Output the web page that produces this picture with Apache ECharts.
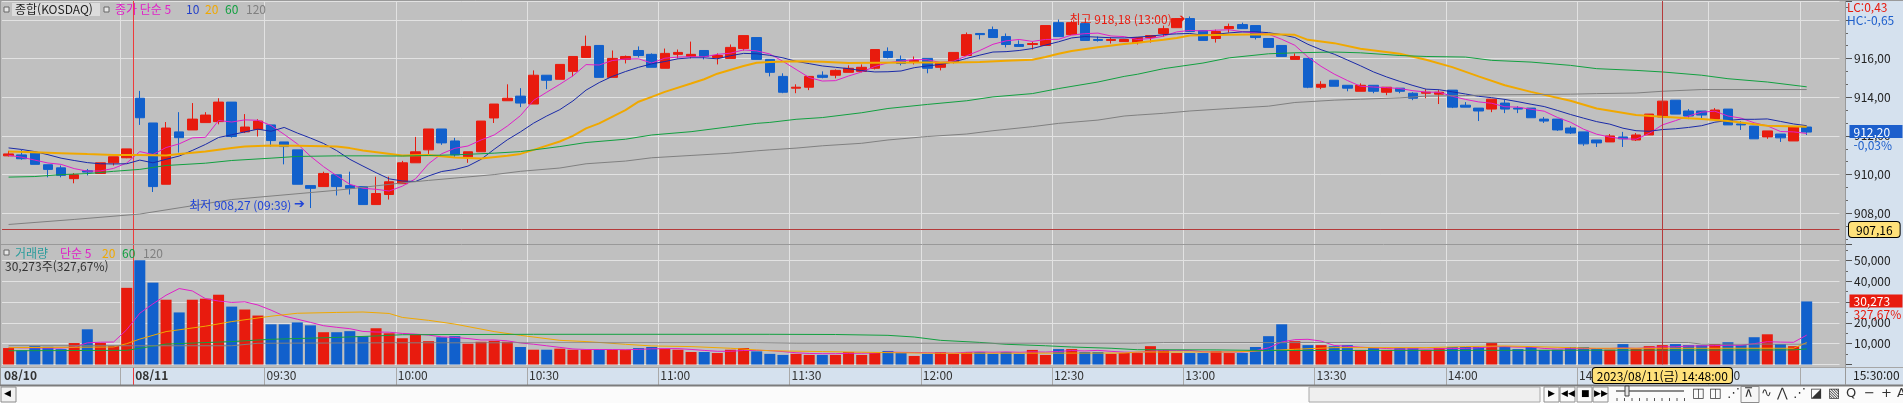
<!DOCTYPE html>
<html lang="ko">
<head>
<meta charset="UTF-8">
<title>종합(KOSDAQ) 3분봉</title>
<script src="https://cdn.jsdelivr.net/npm/echarts@6.0.0/dist/echarts.min.js"></script>
<style>
  html, body { margin: 0; padding: 0; background: #ffffff; overflow: hidden; }
  #main { width: 1903px; height: 403px; }
</style>
</head>
<body>
<div id="main"></div>
<script>
// ---- data (3 minute candles) ----
var day1Times = ['14:54', '14:57', '15:00', '15:03', '15:06', '15:09', '15:12', '15:15', '15:18', '15:30'];
var day2Times = [
  '09:00','09:03','09:06','09:09','09:12','09:15','09:18','09:21','09:24','09:27',
  '09:30','09:33','09:36','09:39','09:42','09:45','09:48','09:51','09:54','09:57',
  '10:00','10:03','10:06','10:09','10:12','10:15','10:18','10:21','10:24','10:27',
  '10:30','10:33','10:36','10:39','10:42','10:45','10:48','10:51','10:54','10:57',
  '11:00','11:03','11:06','11:09','11:12','11:15','11:18','11:21','11:24','11:27',
  '11:30','11:33','11:36','11:39','11:42','11:45','11:48','11:51','11:54','11:57',
  '12:00','12:03','12:06','12:09','12:12','12:15','12:18','12:21','12:24','12:27',
  '12:30','12:33','12:36','12:39','12:42','12:45','12:48','12:51','12:54','12:57',
  '13:00','13:03','13:06','13:09','13:12','13:15','13:18','13:21','13:24','13:27',
  '13:30','13:33','13:36','13:39','13:42','13:45','13:48','13:51','13:54','13:57',
  '14:00','14:03','14:06','14:09','14:12','14:15','14:18','14:21','14:24','14:27',
  '14:30','14:33','14:36','14:39','14:42','14:45','14:48','14:51','14:54','14:57',
  '15:00','15:03','15:06','15:09','15:12','15:15','15:18','15:30'
];

var open = [
  910.97, 911.02, 911.11, 910.51, 910.35, 909.79, 910.20, 910.06, 910.61, 910.87,
  913.95, 912.67, 909.50, 912.21, 912.31, 912.69, 912.74, 913.75, 912.21, 912.34,
  912.57, 911.69, 911.28, 909.43, 909.38, 909.99, 909.43, 909.38, 908.45, 908.97,
  909.53, 910.61, 911.28, 912.36, 911.74, 910.92, 911.18, 912.93, 913.82, 914.06,
  913.65, 915.14, 914.93, 915.34, 916.06, 916.68, 915.03, 915.96, 916.42, 916.22,
  915.50, 916.22, 916.11, 916.42, 916.06, 916.01, 916.52, 917.09, 915.96, 915.08,
  914.47, 914.52, 915.14, 915.14, 915.29, 915.34, 915.50, 916.37, 915.96, 915.80,
  916.01, 915.55, 915.80, 916.16, 917.30, 917.50, 917.14, 916.73, 916.73, 916.68,
  917.86, 917.24, 917.81, 916.99, 916.94, 916.88, 916.83, 917.09, 917.30, 917.60,
  918.07, 917.45, 917.04, 917.55, 917.76, 917.71, 917.04, 916.68, 915.96, 916.01,
  914.52, 914.88, 914.62, 914.31, 914.62, 914.26, 914.47, 914.21, 914.21, 914.16,
  914.37, 913.59, 913.44, 913.39, 913.70, 913.44, 913.44, 912.87, 912.87, 912.41,
  912.21, 911.79, 911.69, 911.95, 911.79, 912.05, 912.98, 913.85, 913.29, 913.29,
  912.87, 913.39, 912.62, 912.51, 911.95, 912.10, 911.74, 912.46
];
var high = [
  911.23, 911.28, 911.14, 910.51, 910.47, 910.08, 910.29, 910.61, 910.92, 911.33,
  914.33, 912.67, 912.72, 913.23, 913.70, 913.23, 913.95, 913.75, 913.13, 912.87,
  912.57, 911.69, 911.28, 909.43, 910.15, 909.99, 910.15, 909.38, 909.89, 909.89,
  910.71, 911.95, 912.36, 912.36, 911.90, 911.18, 912.77, 913.65, 914.67, 914.47,
  915.39, 915.14, 915.70, 916.11, 917.19, 916.68, 916.42, 916.16, 916.63, 916.27,
  916.52, 916.47, 916.88, 916.42, 916.27, 916.73, 917.19, 917.09, 915.96, 915.24,
  914.67, 915.08, 915.34, 915.44, 915.65, 915.70, 916.47, 916.58, 916.16, 916.11,
  916.01, 915.80, 916.32, 917.35, 917.30, 917.66, 917.30, 916.94, 916.88, 917.71,
  918.02, 917.96, 917.86, 917.14, 917.09, 916.99, 917.09, 917.19, 917.71, 918.07,
  918.18, 917.45, 917.50, 917.81, 917.86, 917.71, 917.04, 916.68, 916.27, 916.01,
  914.83, 914.88, 914.62, 914.72, 914.62, 914.52, 914.47, 914.26, 914.42, 914.37,
  914.37, 913.75, 913.44, 913.90, 913.90, 913.54, 913.44, 912.98, 912.87, 912.51,
  912.21, 911.79, 912.10, 912.21, 912.15, 913.13, 913.95, 913.85, 913.39, 913.29,
  913.44, 913.39, 912.77, 912.51, 912.26, 912.10, 912.46, 912.46
];
var low = [
  910.94, 910.77, 910.53, 909.86, 909.86, 909.55, 909.96, 910.06, 910.47, 910.85,
  912.57, 909.10, 909.50, 911.14, 912.31, 912.69, 912.60, 911.91, 912.15, 911.97,
  911.45, 910.53, 909.50, 908.27, 909.38, 908.92, 908.97, 908.45, 908.45, 908.71,
  909.53, 910.61, 911.07, 911.54, 910.92, 910.61, 911.18, 912.67, 913.82, 913.49,
  913.65, 914.42, 914.93, 915.08, 916.06, 915.03, 915.03, 915.75, 916.06, 915.55,
  915.50, 916.01, 916.01, 915.96, 915.70, 916.01, 916.42, 915.96, 915.08, 914.21,
  914.21, 914.37, 914.98, 914.98, 915.29, 915.29, 915.44, 916.01, 915.65, 915.70,
  915.24, 915.39, 915.75, 916.16, 916.99, 917.09, 916.58, 916.63, 916.47, 916.68,
  917.14, 917.24, 916.94, 916.88, 916.78, 916.88, 916.73, 916.83, 917.14, 917.60,
  917.40, 916.94, 916.83, 917.35, 917.55, 916.99, 916.58, 916.11, 915.96, 914.47,
  914.42, 914.57, 914.31, 914.31, 914.21, 914.11, 914.21, 913.85, 913.95, 913.65,
  913.44, 913.49, 912.77, 913.23, 913.18, 913.18, 912.94, 912.67, 912.26, 912.10,
  911.49, 911.43, 911.69, 911.43, 911.74, 912.05, 912.98, 913.13, 912.87, 912.87,
  912.82, 912.57, 912.31, 911.85, 911.85, 911.69, 911.74, 912.05
];
var close = [
  911.07, 910.82, 910.53, 910.27, 909.96, 909.99, 910.13, 910.61, 910.92, 911.33,
  912.94, 909.38, 912.41, 911.91, 912.87, 913.08, 913.75, 911.97, 912.46, 912.77,
  911.76, 911.45, 909.50, 909.29, 910.06, 909.38, 909.29, 908.45, 909.02, 909.63,
  910.61, 911.18, 912.36, 911.64, 911.02, 911.18, 912.77, 913.65, 913.95, 913.70,
  915.14, 914.88, 915.70, 916.11, 916.63, 915.03, 916.01, 916.11, 916.16, 915.55,
  916.27, 916.32, 916.22, 916.11, 916.16, 916.58, 917.19, 915.96, 915.29, 914.26,
  914.52, 915.08, 915.03, 915.39, 915.50, 915.55, 916.47, 916.06, 915.75, 915.91,
  915.50, 915.80, 916.32, 917.24, 917.24, 917.09, 916.73, 916.63, 916.78, 917.71,
  917.14, 917.86, 916.94, 916.94, 916.99, 916.99, 917.09, 917.19, 917.55, 918.07,
  917.40, 916.94, 917.40, 917.66, 917.55, 917.09, 916.58, 916.11, 916.11, 914.52,
  914.67, 914.57, 914.47, 914.62, 914.31, 914.52, 914.31, 913.95, 914.26, 914.26,
  913.49, 913.49, 913.29, 913.90, 913.39, 913.39, 912.94, 912.77, 912.31, 912.15,
  911.59, 911.64, 912.00, 911.85, 912.05, 913.13, 913.80, 913.13, 913.03, 913.08,
  913.34, 912.57, 912.57, 911.85, 912.26, 911.90, 912.46, 912.20
];

// price moving averages (종가 단순 5 / 10 per candle, 20 / 60 / 120 read at points)
var ma5 = [
  911.00, 910.90, 910.75, 910.60, 910.53, 910.31, 910.18, 910.19, 910.32, 910.60,
  911.19, 911.04, 911.40, 911.59, 911.90, 911.93, 912.80, 912.72, 912.83, 912.81,
  912.54, 912.08, 911.59, 910.95, 910.41, 909.94, 909.50, 909.29, 909.24, 909.15,
  909.40, 909.78, 910.56, 911.08, 911.36, 911.48, 911.79, 912.05, 912.51, 913.05,
  913.84, 914.26, 914.67, 915.11, 915.69, 915.67, 915.90, 915.98, 915.99, 915.77,
  916.02, 916.08, 916.10, 916.09, 916.22, 916.28, 916.45, 916.40, 916.24, 915.86,
  915.44, 915.02, 914.84, 914.86, 915.10, 915.31, 915.59, 915.79, 915.87, 915.95,
  915.94, 915.80, 915.86, 916.15, 916.42, 916.74, 916.92, 916.99, 916.89, 916.99,
  917.00, 917.22, 917.29, 917.32, 917.17, 917.14, 916.99, 917.04, 917.16, 917.38,
  917.46, 917.43, 917.47, 917.49, 917.39, 917.33, 917.26, 917.00, 916.69, 916.08,
  915.60, 915.20, 914.87, 914.57, 914.53, 914.50, 914.45, 914.34, 914.27, 914.26,
  914.05, 913.89, 913.76, 913.69, 913.51, 913.49, 913.38, 913.28, 912.96, 912.71,
  912.35, 912.09, 911.94, 911.85, 911.83, 912.13, 912.57, 912.79, 913.03, 913.23,
  913.28, 913.03, 912.92, 912.68, 912.52, 912.23, 912.21, 912.13
];
var ma10 = [
  911.38, 911.30, 911.19, 911.03, 910.85, 910.73, 910.62, 910.56, 910.55, 910.56,
  910.75, 910.61, 910.79, 910.96, 911.25, 911.56, 911.92, 912.06, 912.21, 912.35,
  912.24, 912.44, 912.15, 911.89, 911.61, 911.24, 910.79, 910.44, 910.10, 909.78,
  909.67, 909.64, 909.93, 910.16, 910.26, 910.44, 910.79, 911.31, 911.80, 912.21,
  912.66, 913.03, 913.36, 913.81, 914.37, 914.76, 915.08, 915.33, 915.55, 915.73,
  915.85, 915.99, 916.04, 916.04, 915.99, 916.15, 916.27, 916.25, 916.17, 916.04,
  915.86, 915.74, 915.62, 915.55, 915.48, 915.38, 915.31, 915.32, 915.36, 915.53,
  915.62, 915.70, 915.83, 916.01, 916.18, 916.34, 916.36, 916.42, 916.52, 916.70,
  916.87, 917.07, 917.14, 917.11, 917.08, 917.07, 917.11, 917.16, 917.24, 917.28,
  917.30, 917.21, 917.26, 917.33, 917.38, 917.39, 917.34, 917.24, 917.09, 916.74,
  916.46, 916.23, 915.93, 915.63, 915.31, 915.05, 914.82, 914.61, 914.42, 914.39,
  914.28, 914.17, 914.05, 913.98, 913.89, 913.77, 913.64, 913.52, 913.32, 913.11,
  912.92, 912.74, 912.61, 912.40, 912.27, 912.24, 912.33, 912.37, 912.44, 912.53,
  912.71, 912.80, 912.86, 912.86, 912.88, 912.75, 912.62, 912.53
];
var ma20 = [
  [0, 911.19], [2, 911.16], [4, 911.11], [6, 911.06], [8, 911.02], [10, 911.02], [12, 910.99],
  [13, 911.07], [15, 911.19], [17, 911.37], [18, 911.45], [20, 911.50], [22, 911.49], [25, 911.45],
  [26, 911.37], [27, 911.25], [30, 910.99], [32, 911.02], [34, 910.89], [36, 910.83], [38, 910.97],
  [39, 911.07], [40, 911.28], [42, 911.71], [43, 912.00], [44, 912.39], [45, 912.65], [47, 913.34],
  [48, 913.77], [49, 914.02], [50, 914.28], [52, 914.71], [53, 914.93], [54, 915.22], [56, 915.62],
  [57, 915.79], [58, 915.82], [60, 915.86], [62, 915.84], [64, 915.77], [66, 915.79], [69, 915.80],
  [72, 915.80], [74, 915.82], [76, 915.89], [78, 915.94], [79, 916.08], [80, 916.25], [81, 916.39],
  [83, 916.59], [85, 916.76], [86, 916.82], [88, 916.97], [89, 917.07], [90, 917.19], [93, 917.24],
  [96, 917.26], [98, 917.23], [99, 916.97], [101, 916.80], [103, 916.51], [106, 916.25], [108, 915.94],
  [110, 915.56], [112, 915.08], [114, 914.62], [116, 914.28], [119, 913.82], [121, 913.42], [124, 913.08],
  [126, 912.99], [129, 912.87], [131, 912.77], [134, 912.53], [137, 912.48]
];
var ma60 = [
  [0, 909.87], [2, 909.90], [4, 910.00], [6, 910.05], [8, 910.17], [10, 910.27], [12, 910.47],
  [15, 910.59], [17, 910.73], [20, 910.85], [22, 910.94], [25, 910.97], [27, 910.97], [30, 910.96],
  [32, 910.99], [34, 911.02], [37, 911.11], [39, 911.19], [42, 911.45], [44, 911.66], [47, 911.83],
  [49, 912.05], [52, 912.22], [55, 912.48], [57, 912.65], [58, 912.70], [60, 912.86], [62, 912.95],
  [65, 913.20], [67, 913.42], [70, 913.63], [73, 913.82], [75, 914.02], [78, 914.19], [80, 914.45],
  [83, 914.79], [85, 915.08], [86, 915.19], [88, 915.48], [91, 915.77], [93, 916.04], [96, 916.25],
  [98, 916.30], [101, 916.34], [103, 916.30], [106, 916.16], [108, 916.11], [111, 916.08], [113, 915.91],
  [116, 915.82], [119, 915.65], [121, 915.48], [124, 915.39], [126, 915.31], [129, 915.14], [131, 914.96],
  [134, 914.79], [137, 914.54]
];
var ma120 = [
  [0, 907.42], [5, 907.68], [10, 907.96], [17, 908.71], [25, 909.19], [30, 909.57], [32, 909.70],
  [34, 909.82], [37, 910.00], [39, 910.17], [42, 910.34], [44, 910.56], [47, 910.70], [49, 910.87],
  [52, 910.99], [55, 911.11], [57, 911.23], [58, 911.28], [60, 911.37], [62, 911.49], [65, 911.62],
  [67, 911.79], [70, 911.97], [73, 912.10], [75, 912.27], [78, 912.48], [80, 912.65], [83, 912.82],
  [85, 913.03], [86, 913.08], [88, 913.17], [90, 913.29], [93, 913.42], [96, 913.54], [98, 913.73],
  [101, 913.85], [103, 913.90], [106, 913.97], [108, 914.06], [111, 914.09], [113, 914.13], [116, 914.14],
  [119, 914.16], [121, 914.19], [124, 914.22], [126, 914.31], [129, 914.40], [137, 914.40]
];

// 거래량 (shares)
var volume = [
  7900, 6800, 8850, 8500, 7400, 10300, 16900, 10400, 9000, 36800,
  50100, 39300, 31100, 25000, 31100, 31600, 33500, 27800, 26400, 23500,
  19300, 19300, 20200, 18800, 15500, 15500, 16000, 13600, 17400, 15000,
  12600, 14400, 11200, 13100, 13600, 10000, 10900, 11400, 10900, 8400,
  7100, 7100, 7600, 7100, 7100, 7100, 7100, 7100, 7900, 8400,
  7600, 7100, 6000, 6000, 5500, 7100, 7900, 6300, 5100, 4600,
  5100, 4600, 4600, 4600, 6000, 4600, 5500, 6500, 5500, 4100,
  5100, 6000, 5100, 6000, 6000, 5100, 6000, 5100, 7000, 4600,
  7400, 7400, 6000, 6000, 5100, 5500, 5500, 8800, 7000, 5500,
  5500, 5500, 6500, 5500, 5500, 8400, 13600, 19300, 11200, 9300,
  9300, 8800, 9300, 7000, 7900, 7000, 7900, 7900, 7000, 7900,
  8400, 8400, 8400, 10300, 8600, 7400, 8400, 7000, 7100, 8400,
  8400, 7400, 7100, 9800, 7400, 8800, 9300, 9800, 9300, 9300,
  9800, 10700, 9300, 13100, 14500, 9800, 8800, 30273
];
var vma5 = [
  8200, 8000, 8000, 7900, 7890, 8370, 10390, 10700, 10800, 16680,
  24640, 29120, 33260, 36460, 35320, 31620, 30460, 29800, 30080, 28560,
  26100, 23260, 21740, 20220, 18620, 17860, 17200, 15880, 15600, 15500,
  14920, 14600, 14120, 13260, 12980, 12460, 11760, 11800, 11360, 10320,
  9740, 8980, 8220, 7460, 7200, 7200, 7200, 7100, 7260, 7520,
  7620, 7620, 7240, 6760, 6340, 6340, 6720, 6780, 6700, 6200,
  5640, 5300, 5200, 5200, 5380, 5380, 5560, 5940, 5840, 5740,
  5660, 5560, 5480, 5860, 6040, 5860, 6040, 5860, 6060, 5960,
  6240, 6700, 6500, 6780, 6320, 5940, 5840, 6400, 6780, 6780,
  6780, 6120, 6020, 6020, 6020, 6600, 8020, 10780, 11920, 12100,
  11240, 9140, 8760, 8300, 8020, 7660, 7380, 7560, 7380, 7560,
  7660, 7760, 8040, 8520, 8560, 8360, 8360, 7700, 7400, 7600,
  7600, 7680, 7680, 7960, 7760, 8040, 8480, 8480, 8860, 8960,
  9060, 9240, 9240, 10000, 10940, 10760, 10660, 14100
];
var vma20 = [
  [0, 8100], [8, 8400], [9, 10000], [10, 12200], [12, 15800], [15, 18400], [17, 20600], [20, 23200],
  [22, 24600], [25, 25000], [27, 25200], [29, 24500], [30, 22600], [32, 21200], [34, 19400], [37, 15800],
  [39, 14000], [42, 11600], [44, 11000], [47, 9700], [49, 8900], [52, 8600], [55, 7800], [57, 7000],
  [58, 6600], [62, 6200], [67, 5700], [71, 5400], [85, 5500], [86, 6000], [93, 6000], [96, 6700],
  [98, 7300], [101, 8100], [108, 8100], [111, 8600], [114, 8900], [116, 8600], [119, 8100], [121, 7800],
  [136, 7800], [137, 10500]
];
var vma60 = [
  [0, 6600], [9, 6800], [10, 7800], [12, 9800], [17, 11000], [20, 12100], [25, 13000], [28, 13700],
  [30, 14300], [40, 14500], [58, 14500], [63, 14400], [67, 14000], [69, 13200], [71, 11600], [74, 10600],
  [76, 9700], [79, 9000], [81, 8400], [84, 7800], [86, 7100], [92, 7000], [96, 6700], [114, 6800],
  [136, 7000], [137, 7500]
];
var vma120 = [
  [0, 9000], [17, 9000], [19, 10200], [29, 10400], [57, 10400], [60, 10200], [86, 10200], [88, 10500],
  [128, 10500], [129, 9800], [137, 9800]
];

// figures printed on the chart
var maPeriods = [5, 10, 20, 60, 120];
var lastChangePct = -0.03;
var volRatioPct = 327.67;
var lcPct = 0.43, hcPct = -0.65;
var crossTime = '08/11 14:48';
var crossPrice = 907.16;

// time-axis labels and grid lines, as slot boundaries
var tickSlots = [0, 10, 20, 30, 40, 50, 60, 70, 80, 90, 100, 110, 120, 130];
var tickTexts = ['08/10', '08/11', '09:30', '10:00', '10:30', '11:00', '11:30', '12:00', '12:30', '13:00', '13:30', '14:00', '14:30', '15:00'];
var gridSlots = [9, 20, 30, 40, 50, 60, 70, 80, 90, 100, 110, 120, 130, 137];
var daySlot = 10;

// ---- look ----
var FONT = '"Noto Sans CJK KR", "Noto Sans", sans-serif';
var SYM = '"DejaVu Sans", sans-serif';
var RED = '#e81b0e', BLUE = '#1160cc', LOW_C = '#1f44d8';
var MA_C = { 5: '#e020c8', 10: '#1a2aa8', 20: '#f0a800', 60: '#12a040', 120: '#808080' };
var MA_TXT = { 5: '#e020c8', 10: '#2340c8', 20: '#f0a800', 60: '#12a040', 120: '#808080' };
var GRID_C = '#e2e2e2', DAY_C = '#ee3b3b', CROSS_C = '#b53a3a';
var PANEL_BG = '#c0c0c0', AXIS_BG = '#d5e1ee', NONE = 'rgba(0,0,0,0)';

var PLOT_L = 2, SLOT = 13.125, SLOTS = 140;
var PLOT_W = SLOT * SLOTS;
var AXIS_X = 1845;
var AXIS_OFF = AXIS_X - (PLOT_L + PLOT_W);

var priceMin = 906.41, priceMax = 918.98;
var volMax = 57850;

function dec(v, d) { return v.toFixed(d).replace('.', ','); }
function thou(v) { return String(Math.round(v)).replace(/\B(?=(\d{3})+(?!\d))/g, ','); }

// ---- tables for the library ----
var cats = day1Times.map(function (t) { return '08/10 ' + t; })
  .concat(day2Times.map(function (t) { return '08/11 ' + t; }));
var axisCats = cats.concat(['', ' ']);
var candleData = open.map(function (o, i) { return [o, close[i], low[i], high[i]]; });
var volData = volume.map(function (v, i) {
  return { value: v, itemStyle: { color: close[i] >= open[i] ? RED : BLUE } };
});

var lineSlots = gridSlots.concat([daySlot]).sort(function (a, b) { return a - b; });
var plotLineColors = lineSlots.map(function (s) { return s === daySlot ? DAY_C : GRID_C; }).concat([NONE]);
var bandLineColors = lineSlots.map(function (s) { return s === daySlot ? DAY_C : '#a9a9a9'; });
function onLine(i) { return lineSlots.indexOf(i) >= 0; }

var last = close.length - 1;
var hiIdx = high.indexOf(Math.max.apply(null, high));
var loIdx = low.indexOf(Math.min.apply(null, low));
var hiText = '최고 ' + dec(high[hiIdx], 2) + ' (' + cats[hiIdx].slice(6) + ')';
var loText = '최저 ' + dec(low[loIdx], 2) + ' (' + cats[loIdx].slice(6) + ')';
var crossLabel = '2023/' + crossTime.replace(' ', '(금) ') + ':00';

function plotX(g) {
  return {
    type: 'category', gridIndex: g, data: axisCats, boundaryGap: true,
    axisLine: { show: false }, axisTick: { show: false }, axisLabel: { show: false },
    splitLine: { show: true, interval: onLine, lineStyle: { width: 1, color: plotLineColors } },
    axisPointer: {
      show: true, type: 'line', status: 'show', value: crossTime, snap: true, triggerTooltip: false,
      lineStyle: { color: CROSS_C, width: 1, type: 'solid' }, label: { show: false }
    }
  };
}

function sideY(g, extra) {
  var y = {
    type: 'value', gridIndex: g, position: 'right', offset: AXIS_OFF,
    axisLine: { show: true, lineStyle: { color: '#999999' } },
    axisTick: { show: true, length: 7, lineStyle: { color: '#555555' } },
    splitLine: { show: true, lineStyle: { color: GRID_C, width: 1 } },
    axisLabel: { margin: 9, color: '#222222', fontFamily: FONT, fontSize: 12 }
  };
  for (var k in extra) y[k] = extra[k];
  return y;
}

function maLine(name, data, xi, yi, color, width) {
  return {
    name: name, type: 'line', xAxisIndex: xi, yAxisIndex: yi, data: data, z: 3,
    showSymbol: false, symbol: 'none', silent: true, animation: false,
    lineStyle: { color: color, width: width || 1 }, itemStyle: { color: color }
  };
}

function boxLabel(main, sub, bg) {
  return {
    show: true, position: 'end', distance: AXIS_OFF + 4.5, offset: [0, 6],
    formatter: '{box|' + main + '}\n{sub|' + sub + '}',
    rich: {
      box: { backgroundColor: bg, color: '#ffffff', fontFamily: FONT, fontSize: 12, lineHeight: 13, padding: [1, 4, 0, 4], width: 45 },
      sub: { color: bg, fontFamily: FONT, fontSize: 12, lineHeight: 13, padding: [1, 0, 0, 4] }
    }
  };
}

// ---- chrome drawn with graphic elements ----
function gRect(x, y, w, h, fill, stroke, z) {
  return { type: 'rect', silent: true, z: z, shape: { x: x, y: y, width: w, height: h },
    style: { fill: fill, stroke: stroke || null, lineWidth: stroke ? 1 : 0 } };
}
function gLine(x1, y1, x2, y2, stroke, w, z) {
  return { type: 'line', silent: true, z: z || 10, shape: { x1: x1, y1: y1, x2: x2, y2: y2 },
    style: { stroke: stroke, lineWidth: w || 1 } };
}
function gText(text, x, y, color, size, family, weight) {
  return { type: 'text', silent: true, z: 20, x: x, y: y,
    style: { text: text, fill: color, fontSize: size || 12, fontFamily: family || FONT,
      fontWeight: weight || 'normal', align: 'left', verticalAlign: 'top' } };
}

var graphics = [
  gRect(AXIS_X, 0, 1903 - AXIS_X, 367, AXIS_BG, null, -10),
  gRect(0, 367, 1903, 18, AXIS_BG, null, -10),
  gRect(0, 385, 1903, 18, '#fbfbfb', null, -10),
  gLine(0, 0.5, 1903, 0.5, '#9a9a9a'),
  gLine(0.5, 0, 0.5, 385, '#9a9a9a'),
  gLine(0, 244.5, AXIS_X, 244.5, '#999999'),
  gLine(0, 367.5, 1903, 367.5, '#a6a6a6'),
  gLine(0, 385.5, 1903, 385.5, '#7c7c7c', 2),
  gLine(AXIS_X + 0.5, 0, AXIS_X + 0.5, 385, '#999999'),

  // price legend
  gRect(4, 7, 5, 5, '#e6e6e6', '#666666', 20),
  gRect(12, 3, 88, 13, '#dcdcdc', null, 19),
  gText('종합(KOSDAQ)', 15, 3, '#222222'),
  gRect(104, 7, 5, 5, '#e6e6e6', '#666666', 20),
  gText('종가 단순 ' + maPeriods[0], 115, 3, MA_TXT[5]),
  gText(String(maPeriods[1]), 186, 3, MA_TXT[10]),
  gText(String(maPeriods[2]), 205, 3, MA_TXT[20]),
  gText(String(maPeriods[3]), 225, 3, MA_TXT[60]),
  gText(String(maPeriods[4]), 246, 3, MA_TXT[120]),

  // volume legend
  gRect(4, 250, 5, 5, '#e6e6e6', '#666666', 20),
  gText('거래량', 15, 247, '#2b9c9c'),
  gText('단순 ' + maPeriods[0], 60, 247, MA_TXT[5]),
  gText(String(maPeriods[2]), 102, 247, MA_TXT[20]),
  gText(String(maPeriods[3]), 122, 247, MA_TXT[60]),
  gText(String(maPeriods[4]), 143, 247, MA_TXT[120]),
  gText(thou(volume[last]) + '주(' + dec(volRatioPct, 2) + '%)', 5, 260, '#333333'),

  // right-axis header and clock
  gText('LC:' + dec(lcPct, 2), 1847, 1, '#e81b0e', 12),
  gText('HC:' + dec(hcPct, 2), 1847, 14, '#1d5fcc', 12),
  gText(cats[last].slice(6) + ':00', 1853, 369, '#222222'),

  // bottom toolbar
  gRect(1, 387, 15, 15, '#f2f2f2', '#8c8c8c', 15),
  gText('◀', 4, 389, '#000000', 9, SYM),
  gRect(1309, 387, 231, 15, '#efefef', '#a8a8a8', 15)
];
[['▶', 1544], ['◀◀', 1560], ['■', 1577], ['▶▶', 1593]].forEach(function (b) {
  graphics.push(gRect(b[1], 387, 15, 15, '#fafafa', '#909090', 15));
  graphics.push(gText(b[0], b[1] + (b[0].length > 1 ? 1 : 4), 389.5, '#000000', 9, SYM));
});
graphics.push(gLine(1616, 391, 1684, 391, '#8a8a8a', 2, 15));
graphics.push(gRect(1625, 386, 4, 10, '#e6e6e6', '#444444', 16));
for (var tx = 1617; tx <= 1685; tx += 7.5) graphics.push(gLine(tx, 398, tx, 401, '#555555', 1, 15));
graphics.push(gRect(1741, 386.5, 18, 16, '#f6f6f6', '#8c8c8c', 15));
[['◫', 1692], ['◫', 1709], ['⋰', 1727], ['⊼', 1744], ['∿', 1761], ['⋀', 1777], ['⋰', 1793],
 ['◪', 1810], ['▧', 1828], ['Q', 1846], ['−', 1864], ['+', 1881], ['A', 1897]].forEach(function (c) {
  graphics.push(gText(c[0], c[1], 387, '#333333', 13, SYM));
});

// ---- chart ----
var chart = echarts.init(document.getElementById('main'), null, { renderer: 'canvas' });
var option = {
  backgroundColor: PANEL_BG,
  animation: false,
  textStyle: { fontFamily: FONT },
  grid: [
    { left: PLOT_L, top: 1, width: PLOT_W, height: 243, outerBoundsMode: 'none' },
    { left: PLOT_L, top: 244, width: PLOT_W, height: 120.5, outerBoundsMode: 'none' },
    { left: PLOT_L, top: 367, width: PLOT_W, height: 18, outerBoundsMode: 'none' },
    { left: PLOT_L, top: 366, width: PLOT_W, height: 1, outerBoundsMode: 'none' }
  ],
  xAxis: [
    plotX(0),
    plotX(1),
    {
      type: 'category', gridIndex: 2, data: axisCats.concat(['end']), boundaryGap: false, position: 'top',
      axisLine: { show: false }, axisTick: { show: false },
      axisLabel: {
        show: true, inside: true, interval: 0, margin: 2, align: 'left',
        formatter: function (v, i) {
          var p = tickSlots.indexOf(i);
          if (p < 0) return '';
          var t = tickTexts[p];
          return t.indexOf('/') > 0 ? '{d|' + t + '}' : '{t|' + t + '}';
        },
        rich: {
          d: { fontFamily: FONT, fontSize: 12, fontWeight: 'bold', color: '#333333', padding: [0, 0, 0, 2] },
          t: { fontFamily: FONT, fontSize: 12, color: '#333333', padding: [0, 0, 0, 2] }
        }
      },
      splitLine: { show: true, interval: onLine, lineStyle: { width: 1, color: bandLineColors } }
    },
    {
      type: 'category', gridIndex: 3, data: axisCats, boundaryGap: true, position: 'bottom',
      axisLine: { show: false }, axisTick: { show: false }, axisLabel: { show: false }, splitLine: { show: false },
      axisPointer: {
        show: true, type: 'line', status: 'show', value: crossTime, triggerTooltip: false,
        lineStyle: { color: NONE, type: 'solid' },
        label: {
          show: true, margin: 1, formatter: function () { return crossLabel; },
          backgroundColor: '#ffe17a', borderColor: '#000000', borderWidth: 1, color: '#000000',
          padding: [2, 4, 1, 4], fontFamily: FONT, fontSize: 12
        }
      }
    }
  ],
  yAxis: [
    sideY(0, {
      min: priceMin, max: priceMax, minInterval: 2, maxInterval: 2,
      minorTick: { show: true, splitNumber: 3, length: 3, lineStyle: { color: '#666666' } },
      axisLabel: {
        margin: 9, color: '#222222', fontFamily: FONT, fontSize: 12,
        formatter: function (v) { return (v < 907.5 || v > 917) ? '' : dec(v, 2); }
      },
      axisPointer: {
        show: true, type: 'line', status: 'show', value: crossPrice, triggerTooltip: false,
        lineStyle: { color: CROSS_C, width: 1, type: 'solid' },
        label: {
          show: true, margin: 4, formatter: function () { return dec(crossPrice, 2); },
          backgroundColor: '#ffe17a', borderColor: '#000000', borderWidth: 1, color: '#000000',
          padding: [2, 7, 1, 7], fontFamily: FONT, fontSize: 12
        }
      }
    }),
    sideY(1, {
      min: 0, max: volMax, interval: 10000,
      minorTick: { show: true, splitNumber: 2, length: 3, lineStyle: { color: '#666666' } },
      axisLabel: {
        margin: 9, color: '#222222', fontFamily: FONT, fontSize: 12,
        formatter: function (v) { return (v <= 0 || v > 55000) ? '' : thou(v); }
      }
    }),
    { type: 'value', gridIndex: 2, show: false },
    { type: 'value', gridIndex: 3, show: false }
  ],
  graphic: { elements: graphics },
  series: [
    {
      name: '종합(KOSDAQ)', type: 'candlestick', xAxisIndex: 0, yAxisIndex: 0, data: candleData,
      barWidth: 10, silent: true,
      itemStyle: { color: RED, color0: BLUE, borderColor: RED, borderColor0: BLUE, borderWidth: 1 },
      markPoint: {
        silent: true, animation: false, symbol: 'rect', symbolSize: 1, itemStyle: { color: NONE },
        data: [
          {
            coord: [hiIdx, high[hiIdx]],
            label: {
              show: true, position: 'left', distance: 4, offset: [0, 3], color: RED,
              fontFamily: FONT, fontSize: 12, formatter: hiText + ' {a|➔}',
              rich: { a: { fontFamily: SYM, fontSize: 13, color: RED } }
            }
          },
          {
            coord: [loIdx, low[loIdx]],
            label: {
              show: true, position: 'left', distance: 5, offset: [0, -3], color: LOW_C,
              fontFamily: FONT, fontSize: 12, formatter: loText + ' {a|➔}',
              rich: { a: { fontFamily: SYM, fontSize: 13, color: LOW_C } }
            }
          }
        ]
      },
      markLine: {
        silent: true, animation: false, symbol: ['none', 'none'],
        lineStyle: { color: NONE, width: 0 },
        label: boxLabel(dec(close[last], 2), dec(lastChangePct, 2) + '%', '#1d5fcc'),
        data: [{ yAxis: close[last] }]
      }
    },
    maLine('MA5', ma5, 0, 0, MA_C[5]),
    maLine('MA10', ma10, 0, 0, MA_C[10]),
    maLine('MA20', ma20, 0, 0, MA_C[20], 2),
    maLine('MA60', ma60, 0, 0, MA_C[60]),
    maLine('MA120', ma120, 0, 0, MA_C[120]),
    {
      name: '거래량', type: 'bar', xAxisIndex: 1, yAxisIndex: 1, data: volData, barWidth: 11, silent: true,
      markLine: {
        silent: true, animation: false, symbol: ['none', 'none'],
        lineStyle: { color: NONE, width: 0 },
        label: boxLabel(thou(volume[last]), dec(volRatioPct, 2) + '%', '#e81b0e'),
        data: [{ yAxis: volume[last] }]
      }
    },
    maLine('VMA5', vma5, 1, 1, MA_C[5]),
    maLine('VMA20', vma20, 1, 1, MA_C[20]),
    maLine('VMA60', vma60, 1, 1, MA_C[60]),
    maLine('VMA120', vma120, 1, 1, MA_C[120])
  ]
};
chart.setOption(option);
</script>
</body>
</html>
